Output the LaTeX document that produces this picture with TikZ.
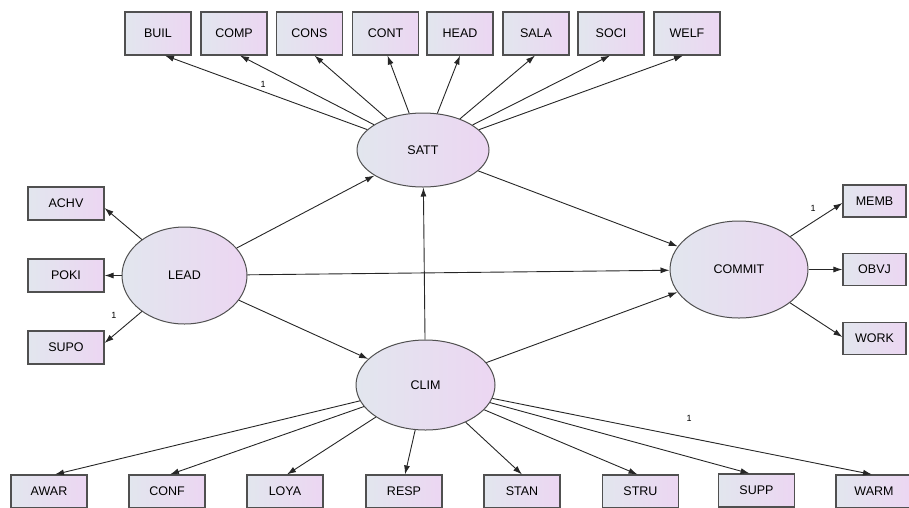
\documentclass[tikz,border=0pt]{standalone}
\usepackage{fontspec}
\setmainfont{Liberation Sans}
\usetikzlibrary{arrows.meta,shapes.geometric}
\definecolor{gl}{RGB}{226,230,238}
\definecolor{gr}{RGB}{236,214,242}
\definecolor{bd}{RGB}{80,80,80}
\tikzset{
  obs/.style={rectangle,draw=bd,line width=1.1pt,left color=gl,right color=gr,inner sep=0pt,font=\fontsize{12.5}{12.5}\selectfont},
  topbox/.style={obs,minimum width=66pt,minimum height=43pt},
  sidebox/.style={obs,minimum width=76pt,minimum height=33pt},
  rbox/.style={obs,minimum width=63pt,minimum height=32pt},
  lat/.style={ellipse,draw=bd,line width=1pt,left color=gl,right color=gr,inner sep=0pt,font=\fontsize{12.5}{12.5}\selectfont},
  path/.style={draw=black!85,line width=0.9pt,-{Latex[length=9pt,width=6pt]}},
  one/.style={font=\fontsize{9}{9}\selectfont,inner sep=0pt}
}
\begin{document}
\begin{tikzpicture}[x=1pt,y=-1pt]
\useasboundingbox (0,0) rectangle (909,507);
% latent
\node[lat,minimum width=132pt,minimum height=74pt] (SATT) at (423,150) {SATT};
\node[lat,minimum width=125pt,minimum height=97pt] (LEAD) at (184.5,275.5) {LEAD};
\node[lat,minimum width=138pt,minimum height=97pt] (COMMIT) at (739,269.5) {COMMIT};
\node[lat,minimum width=139pt,minimum height=90pt] (CLIM) at (425.5,385) {CLIM};
% top
\node[topbox] (BUIL) at (158,33.5) {BUIL};
\node[topbox] (COMP) at (234,33.5) {COMP};
\node[topbox] (CONS) at (309.5,33.5) {CONS};
\node[topbox] (CONT) at (385.5,33.5) {CONT};
\node[topbox] (HEAD) at (460,33.5) {HEAD};
\node[topbox] (SALA) at (536,33.5) {SALA};
\node[topbox] (SOCI) at (611,33.5) {SOCI};
\node[topbox] (WELF) at (687,33.5) {WELF};
% left
\node[sidebox] (ACHV) at (66,203.5) {ACHV};
\node[sidebox] (POKI) at (66,275.5) {POKI};
\node[sidebox] (SUPO) at (66,347.5) {SUPO};
% right
\node[rbox] (MEMB) at (874.5,201) {MEMB};
\node[rbox] (OBVJ) at (874.5,269.5) {OBVJ};
\node[rbox] (WORK) at (874.5,338.5) {WORK};
% bottom
\node[sidebox] (AWAR) at (49,491.5) {AWAR};
\node[sidebox] (CONF) at (167,491.5) {CONF};
\node[sidebox] (LOYA) at (285,491.5) {LOYA};
\node[sidebox] (RESP) at (404,491.5) {RESP};
\node[sidebox] (STAN) at (522,491.5) {STAN};
\node[sidebox] (STRU) at (640.5,491.5) {STRU};
\node[sidebox] (SUPP) at (756.5,490.5) {SUPP};
\node[sidebox] (WARM) at (874,491.5) {WARM};
% structural paths
\draw[path] (LEAD) -- (SATT);
\draw[path] (LEAD) -- (COMMIT);
\draw[path] (LEAD) -- (CLIM);
\draw[path] (CLIM) -- (SATT);
\draw[path] (SATT) -- (COMMIT);
\draw[path] (CLIM) -- (COMMIT);
% measurement: SATT
\draw[path] (SATT) -- ([xshift=7pt]BUIL.south);
\draw[path] (SATT) -- ([xshift=6pt]COMP.south);
\draw[path] (SATT) -- ([xshift=5pt]CONS.south);
\draw[path] (SATT) -- ([xshift=2pt]CONT.south);
\draw[path] (SATT) -- (HEAD.south);
\draw[path] (SATT) -- ([xshift=-1pt]SALA.south);
\draw[path] (SATT) -- ([xshift=-1pt]SOCI.south);
\draw[path] (SATT) -- ([xshift=-4pt]WELF.south);
% LEAD
\draw[path] (LEAD) -- ([yshift=-4.5pt]ACHV.east);
\draw[path] (LEAD) -- (POKI.east);
\draw[path] (LEAD) -- ([yshift=4.5pt]SUPO.east);
% COMMIT
\draw[path] (COMMIT) -- ([yshift=-2pt]MEMB.west);
\draw[path] (COMMIT) -- (OBVJ.west);
\draw[path] (COMMIT) -- ([yshift=1.5pt]WORK.west);
% CLIM
\draw[path] (CLIM) -- ([xshift=6pt]AWAR.north);
\draw[path] (CLIM) -- ([xshift=3pt]CONF.north);
\draw[path] (CLIM) -- ([xshift=2pt]LOYA.north);
\draw[path] (CLIM) -- ([xshift=1pt]RESP.north);
\draw[path] (CLIM) -- (STAN.north);
\draw[path] (CLIM) -- ([xshift=-3pt]STRU.north);
\draw[path] (CLIM) -- ([xshift=-7pt]SUPP.north);
\draw[path] (CLIM) -- ([xshift=-2pt]WARM.north);
% labels
\node[one] (l1) at (263,84) {1};
\node[one] (l2) at (114,315) {1};
\node[one] (l3) at (813,208) {1};
\node[one] (l4) at (689,418) {1};
\end{tikzpicture}
\end{document}
